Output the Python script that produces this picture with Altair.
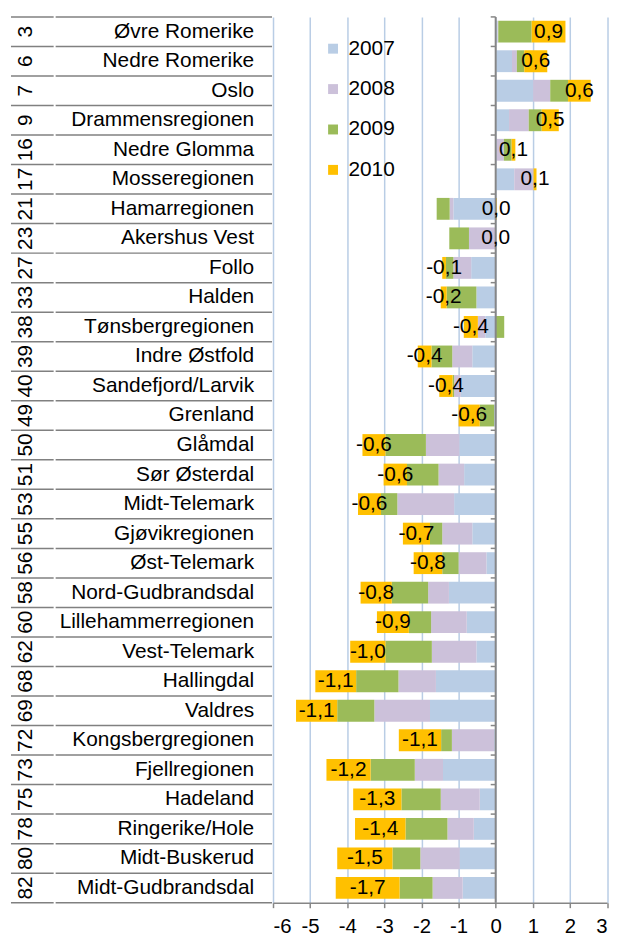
import altair as alt
import pandas as pd

regions = ["Øvre Romerike", "Nedre Romerike", "Oslo", "Drammensregionen", "Nedre Glomma",
           "Mosseregionen", "Hamarregionen", "Akershus Vest", "Follo", "Halden",
           "Tønsbergregionen", "Indre Østfold", "Sandefjord/Larvik", "Grenland", "Glåmdal",
           "Sør Østerdal", "Midt-Telemark", "Gjøvikregionen", "Øst-Telemark", "Nord-Gudbrandsdal",
           "Lillehammerregionen", "Vest-Telemark", "Hallingdal", "Valdres", "Kongsbergregionen",
           "Fjellregionen", "Hadeland", "Ringerike/Hole", "Midt-Buskerud", "Midt-Gudbrandsdal"]
ranks = [3, 6, 7, 9, 16, 17, 21, 23, 27, 33, 38, 39, 40, 49, 50, 51, 53, 55, 56, 58,
         60, 62, 68, 69, 72, 73, 75, 78, 80, 82]

v2007 = [0.05, 0.44, 1.01, 0.36, 0.03, 0.50, -1.14, 0.00, -0.66, -0.52,
         -0.28, -0.63, -0.94, -0.04, -0.98, -0.85, -1.12, -0.63, -0.25, -1.26,
         -0.78, -0.52, -1.61, -1.77, -0.04, -1.42, -0.43, -0.59, -0.97, -0.89]
v2008 = [0.02, 0.13, 0.46, 0.53, 0.19, 0.52, -0.10, -0.72, -0.48, 0.00,
         -0.20, -0.54, -0.18, 0.00, -0.90, -0.69, -1.53, -0.81, -0.75, -0.56,
         -0.96, -1.20, -1.01, -1.50, -1.14, -0.76, -1.05, -0.71, -1.06, -0.81]
v2009 = [0.90, 0.20, 0.48, 0.35, 0.21, 0.00, -0.35, -0.53, -0.20, -0.80,
         0.23, -0.56, -0.04, -0.39, -1.09, -0.85, -0.44, -0.33, -0.44, -0.98,
         -0.60, -1.25, -1.14, -1.00, -0.29, -1.19, -1.06, -1.13, -0.75, -0.89]
v2010 = [0.91, 0.62, 0.61, 0.46, 0.10, 0.08, 0.03, 0.00, -0.10, -0.16,
         -0.38, -0.37, -0.36, -0.57, -0.62, -0.63, -0.62, -0.73, -0.77, -0.84,
         -0.86, -0.95, -1.10, -1.11, -1.14, -1.19, -1.30, -1.36, -1.49, -1.72]
labels_2010 = ["0,9", "0,6", "0,6", "0,5", "0,1", "0,1", "0,0", "0,0", "-0,1", "-0,2",
               "-0,4", "-0,4", "-0,4", "-0,6", "-0,6", "-0,6", "-0,6", "-0,7", "-0,8", "-0,8",
               "-0,9", "-1,0", "-1,1", "-1,1", "-1,1", "-1,2", "-1,3", "-1,4", "-1,5", "-1,7"]

years = ["2007", "2008", "2009", "2010"]
colors = ["#B9CDE5", "#CCC1DA", "#9BBB59", "#FFC000"]
x_ticks = [-6, -5, -4, -3, -2, -1, 0, 1, 2, 3]

rows = []
for i, r in enumerate(regions):
    for yr, vals in zip(years, [v2007, v2008, v2009, v2010]):
        rows.append({"region": r, "year": yr, "value": vals[i], "label": labels_2010[i]})
df = pd.DataFrame(rows)
table = pd.DataFrame({"region": regions, "rank": [str(r) for r in ranks]})
zero_df = pd.DataFrame({"z": [0]})

W, H = 336.5, 892.4
FONT = "Liberation Sans"
GRAY = "#808080"

yscale = alt.Scale(domain=regions, paddingInner=0, paddingOuter=0)
yband = alt.Y("region:N", sort=regions, axis=None, scale=yscale)
ytop = alt.Y("region:N", sort=regions, axis=None, scale=yscale, bandPosition=0)
xscale = alt.Scale(domain=[-6, 3], nice=False, zero=False)
xaxis = alt.Axis(values=x_ticks, labelExpr="'' + datum.value", grid=True,
                 gridColor="#B9CDE5", gridWidth=1.5, domainColor="#868686",
                 domainWidth=1.5, tickColor="#868686", tickWidth=1.5, tickSize=5,
                 labelFontSize=20.5, labelFont=FONT, labelColor="black",
                 labelPadding=9)

base = alt.Chart(df).transform_stack(
    stack="value", groupby=["region"], as_=["v0", "v1"],
    sort=[alt.SortField("year", order="ascending")], offset="zero")

bars = base.mark_bar(height={"band": 0.74}).encode(
    x=alt.X("v0:Q", scale=xscale, title=None, axis=xaxis),
    x2="v1:Q",
    y=yband,
    color=alt.Color("year:N", scale=alt.Scale(domain=years, range=colors),
                    legend=alt.Legend(title=None, orient="none", legendX=50, legendY=21.5,
                                      symbolType="square", symbolSize=100,
                                      symbolStrokeWidth=0, labelFontSize=21,
                                      labelFont=FONT, labelColor="black", rowPadding=18.7,
                                      labelOffset=5, padding=0)),
)

labels = base.transform_filter(alt.datum.year == "2010").transform_calculate(
    mid="(datum.v0 + datum.v1) / 2"
).mark_text(font=FONT, fontSize=21, color="black", baseline="middle").encode(
    x=alt.X("mid:Q", scale=xscale, title=None, axis=xaxis),
    y=yband,
    text="label:N",
)

tab = alt.Chart(table)
line_a = tab.mark_rule(color=GRAY, strokeWidth=1.5).encode(
    x=alt.value(-264), x2=alt.value(-221), y=ytop)
line_b = tab.mark_rule(color=GRAY, strokeWidth=1.5).encode(
    x=alt.value(-219), x2=alt.value(-1), y=ytop)
bottom_a = alt.Chart(zero_df).mark_rule(color=GRAY, strokeWidth=1.5).encode(
    x=alt.value(-264), x2=alt.value(-221), y=alt.value(H))
bottom_b = alt.Chart(zero_df).mark_rule(color=GRAY, strokeWidth=1.5).encode(
    x=alt.value(-219), x2=alt.value(-1), y=alt.value(H))

zero_line = alt.Chart(zero_df).mark_rule(color="#868686", strokeWidth=2).encode(
    x=alt.X("z:Q", scale=xscale, title=None, axis=xaxis))
zero_ticks = tab.mark_rule(color="#868686", strokeWidth=1.5, xOffset=-5).encode(
    x=alt.X(datum=0, scale=xscale, title=None, axis=xaxis), x2=alt.X2(datum=0), y=ytop)

names = tab.mark_text(align="right", baseline="middle", font=FONT, fontSize=21,
                      color="black").encode(x=alt.value(-19), y=yband, text="region:N")
rank_txt = tab.mark_text(align="center", baseline="middle", angle=270, font=FONT,
                         fontSize=21, color="black").encode(
    x=alt.value(-249), y=yband, text="rank:N")

chart = alt.layer(
    bars, line_a, line_b, bottom_a, bottom_b, zero_line, zero_ticks, labels, names, rank_txt
).properties(
    width=W, height=H,
    padding={"left": 2, "top": 4.5, "right": 0, "bottom": 0},
).configure_view(stroke=None)

chart.save("out.html", embed_options={"renderer": "svg", "actions": False})
